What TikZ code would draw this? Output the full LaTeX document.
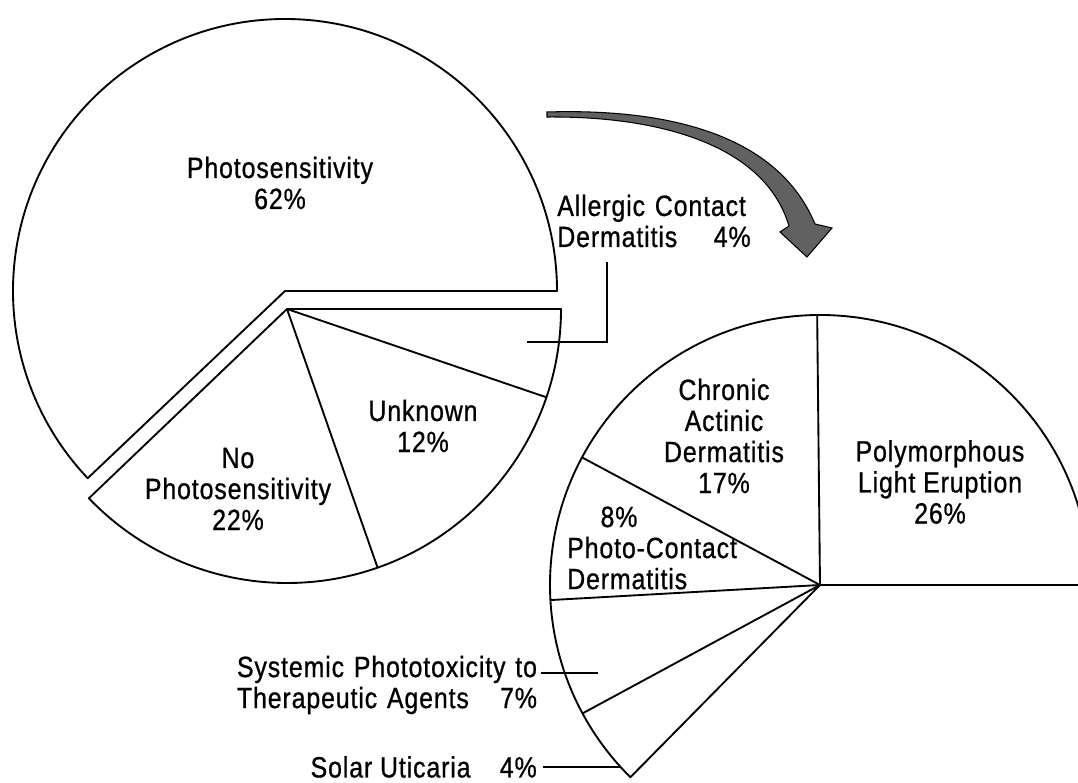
\documentclass[tikz,border=0pt]{standalone}
\usepackage{fontspec}
\setmainfont{Liberation Sans}[FakeStretch=0.85, LetterSpace=3, FakeBold=0.8]
\usetikzlibrary{calc}

\begin{document}
\begin{tikzpicture}[x=0.03cm, y=0.03cm,
	pie/.style={line width=1.6pt, line join=round},
	lbl/.style={align=center, inner sep=0pt, font=\fontsize{25}{26.5}\selectfont},
	leader/.style={line width=1.1pt}]
	\useasboundingbox (0,0) rectangle (1078,783);
	\clip (0,0) rectangle (1078,783);

	% left pie, photosensitivity slice pulled out
	\coordinate (L) at (287,474);
	\coordinate (Lout) at (285,492);
	\draw[pie] (Lout) -- ++(0:272) arc (0:223.5:272) -- cycle;
	\draw[pie] (L) -- ++(0:274) arc (0:-136.3:274) -- cycle;
	\draw[pie] (L) -- ++(-18.8:274);
	\draw[pie] (L) -- ++(-70.7:274);

	% right pie, split of the 62%
	\coordinate (R) at (820,198);
	\draw[pie] (R) -- ++(0:270) arc (0:225.4:270) -- cycle;
	\foreach \a in {90.6, 151.8, 183.2, 208.4}
		\draw[pie] (R) -- ++(\a:270);

	% curved arrow
	\draw[line width=0.9pt, fill=black!62] (547,671) .. controls (680,675) and (780,643) .. (815,559)
		-- (832,555) -- (807,526) -- (780,551) -- (789,557)
		.. controls (765,638) and (660,667) .. (547,666) -- cycle;

	\node[lbl] (ps) at (280,600) {Photosensitivity\\62\%};
	\node[lbl, align=left, text width=5.8cm] (acd) at (654,562) {\mbox{Allergic Contact}\\Dermatitis\hfill 4\%};
	\node[lbl] (unk) at (423,357) {Unknown\\12\%};
	\node[lbl] (nps) at (238,294) {No\\Photosensitivity\\22\%};
	\node[lbl] (cad) at (724,347) {Chronic\\Actinic\\Dermatitis\\17\%};
	\node[lbl] (ple) at (940,301) {Polymorphous\\Light Eruption\\26\%};
	\node[lbl, align=left, anchor=west] (pcd) at (567,235) {\hspace*{1cm}8\%\\Photo-Contact\\Dermatitis};
	\node[lbl, align=left, text width=9cm] (spt) at (387,98) {Systemic Phototoxicity to\\Therapeutic Agents\hfill 7\%};
	\node[lbl, anchor=east] (su) at (537,16) {Solar Uticaria\hspace{1em}4\%};

	% leader lines
	\coordinate (acd-a) at (607,441);
	\coordinate (acd-b) at (527,441);
	\draw[leader] ($(acd.south -| acd-a)+(0,-14)$) -- (acd-a) -- (acd-b);
	\coordinate (spt-a) at (598,110);
	\draw[leader] ($(spt.east |- spt-a)+(4,0)$) -- (spt-a);
	\coordinate (su-a) at (620,16);
	\draw[leader] ($(su.east)+(6,0)$) -- (su-a);
\end{tikzpicture}
\end{document}
